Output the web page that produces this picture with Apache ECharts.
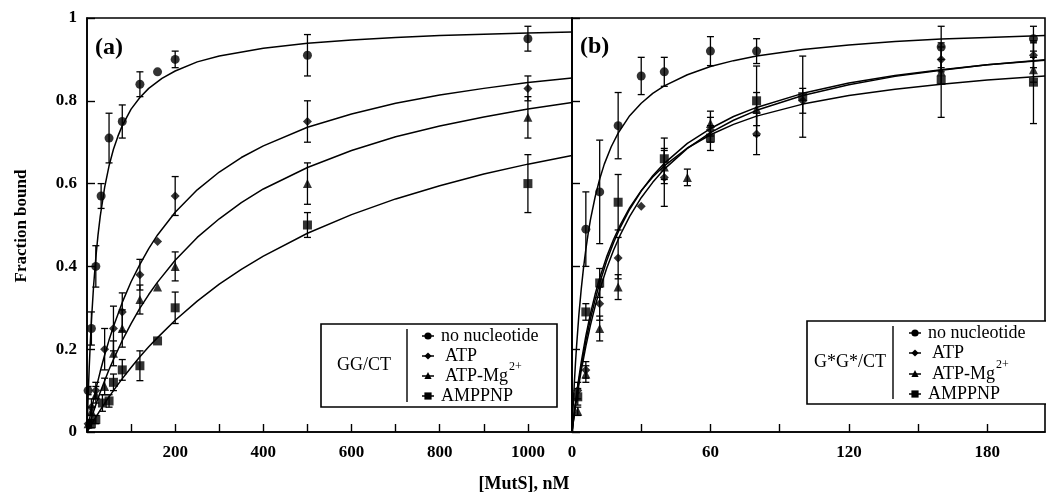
<!DOCTYPE html>
<html><head><meta charset="utf-8">
<script src="https://cdn.jsdelivr.net/npm/echarts@6/dist/echarts.min.js"></script>
<style>html,body{margin:0;padding:0;background:#fff}#c{width:1046px;height:499px}</style>
</head><body><div id="c"></div>
<script>
// ---------- Panel (a): GG/CT ----------
var aNoNucX = [2.5, 10, 20, 32, 50, 80, 120, 160, 200, 500, 1000];
var aNoNucY = [0.10, 0.25, 0.40, 0.57, 0.71, 0.75, 0.84, 0.87, 0.90, 0.91, 0.95];
var aNoNucE = [0.01, 0.04, 0.05, 0.03, 0.06, 0.04, 0.03, 0, 0.02, 0.05, 0.03];
var aAtpX = [2.5, 10, 20, 40, 60, 80, 120, 160, 200, 500, 1000];
var aAtpY = [0.02, 0.06, 0.10, 0.20, 0.25, 0.29, 0.38, 0.46, 0.57, 0.75, 0.83];
var aAtpE = [0.01, 0.02, 0.02, 0.05, 0.054, 0.046, 0.037, 0, 0.047, 0.05, 0.03];
var aMgX = [2.5, 10, 20, 40, 60, 80, 120, 160, 200, 500, 1000];
var aMgY = [0.02, 0.05, 0.09, 0.11, 0.19, 0.25, 0.32, 0.35, 0.40, 0.60, 0.76];
var aMgE = [0.01, 0.01, 0.02, 0.02, 0.03, 0.045, 0.035, 0, 0.035, 0.05, 0.05];
var aAmpX = [10, 20, 35, 50, 60, 80, 120, 160, 200, 500, 1000];
var aAmpY = [0.02, 0.03, 0.07, 0.075, 0.12, 0.15, 0.16, 0.22, 0.30, 0.50, 0.60];
var aAmpE = [0.01, 0.01, 0.02, 0.015, 0.02, 0.025, 0.036, 0, 0.038, 0.03, 0.07];
// fitted curves of panel (a)
var aCurveNoNucX = [0, 1, 2.5, 5, 7.5, 10, 15, 20, 25, 30, 40, 50, 60, 70, 80, 100, 120, 140, 170, 200, 250, 300, 400, 500, 600, 700, 800, 900, 1000, 1100];
var aCurveNoNucY = [0, 0.035, 0.084, 0.155, 0.215, 0.268, 0.354, 0.421, 0.476, 0.521, 0.591, 0.643, 0.683, 0.714, 0.740, 0.780, 0.808, 0.830, 0.854, 0.872, 0.894, 0.908, 0.927, 0.939, 0.947, 0.953, 0.958, 0.961, 0.964, 0.966];
var aCurveX = [0, 10, 20, 30, 40, 50, 60, 80, 100, 120, 140, 160, 200, 250, 300, 350, 400, 500, 600, 700, 800, 900, 1000, 1100];
var aCurveAtpY = [0, 0.054, 0.103, 0.146, 0.186, 0.222, 0.255, 0.313, 0.363, 0.405, 0.443, 0.476, 0.531, 0.585, 0.628, 0.663, 0.691, 0.736, 0.768, 0.794, 0.814, 0.830, 0.844, 0.855];
var aCurveMgY = [0, 0.034, 0.066, 0.096, 0.124, 0.151, 0.175, 0.221, 0.262, 0.299, 0.332, 0.362, 0.415, 0.470, 0.515, 0.554, 0.587, 0.639, 0.680, 0.713, 0.739, 0.761, 0.780, 0.796];
var aCurveAmpY = [0, 0.018, 0.036, 0.053, 0.069, 0.085, 0.100, 0.129, 0.156, 0.182, 0.206, 0.228, 0.270, 0.316, 0.357, 0.393, 0.425, 0.480, 0.525, 0.563, 0.595, 0.623, 0.647, 0.668];

// ---------- Panel (b): G*G*/CT ----------
var bNoNucX = [6, 12, 20, 30, 40, 60, 80, 160, 200];
var bNoNucY = [0.49, 0.58, 0.74, 0.86, 0.87, 0.92, 0.92, 0.93, 0.95];
var bNoNucE = [0.09, 0.125, 0.08, 0.045, 0.035, 0.035, 0.03, 0.05, 0.03];
var bAtpX = [2.5, 6, 12, 20, 30, 40, 60, 80, 100, 160, 200];
var bAtpY = [0.10, 0.15, 0.31, 0.42, 0.545, 0.615, 0.73, 0.72, 0.80, 0.90, 0.91];
var bAtpE = [0.02, 0.02, 0.04, 0.05, 0, 0.07, 0.03, 0.05, 0.03, 0.03, 0.03];
var bMgX = [2.5, 6, 12, 20, 40, 50, 60, 80, 160, 200];
var bMgY = [0.05, 0.14, 0.25, 0.35, 0.64, 0.615, 0.745, 0.78, 0.87, 0.875];
var bMgE = [0.01, 0.02, 0.03, 0.03, 0.04, 0.02, 0.03, 0.04, 0.03, 0.03];
var bAmpX = [2.5, 6, 12, 20, 40, 60, 80, 100, 160, 200];
var bAmpY = [0.085, 0.29, 0.36, 0.555, 0.66, 0.71, 0.80, 0.81, 0.85, 0.845];
var bAmpE = [0.02, 0.02, 0.035, 0.067, 0.05, 0.03, 0.084, 0.098, 0.09, 0.1];
var bCurveNoNucX = [0, 0.5, 1, 1.5, 2, 3, 4, 5, 6, 7, 8, 10, 12, 14, 17, 20, 25, 30, 35, 40, 50, 60, 70, 80, 100, 120, 140, 160, 180, 205];
var bCurveNoNucY = [0, 0.062, 0.117, 0.166, 0.209, 0.284, 0.345, 0.397, 0.441, 0.479, 0.513, 0.567, 0.611, 0.647, 0.689, 0.722, 0.764, 0.794, 0.818, 0.836, 0.863, 0.883, 0.897, 0.908, 0.924, 0.935, 0.943, 0.949, 0.953, 0.958];
var bCurveX = [0, 1, 2, 3, 4, 6, 8, 10, 12, 15, 18, 21, 25, 30, 35, 40, 50, 60, 70, 80, 100, 120, 140, 160, 180, 205];
var bCurveAtpY = [0, 0.045, 0.086, 0.124, 0.158, 0.220, 0.273, 0.319, 0.360, 0.413, 0.457, 0.495, 0.538, 0.582, 0.619, 0.649, 0.697, 0.733, 0.762, 0.784, 0.818, 0.843, 0.861, 0.875, 0.887, 0.898];
var bCurveMgY = [0, 0.042, 0.080, 0.115, 0.148, 0.207, 0.258, 0.303, 0.343, 0.395, 0.439, 0.477, 0.521, 0.566, 0.603, 0.635, 0.685, 0.723, 0.753, 0.777, 0.813, 0.839, 0.859, 0.874, 0.887, 0.899];
var bCurveAmpY = [0, 0.049, 0.093, 0.132, 0.169, 0.232, 0.286, 0.332, 0.372, 0.423, 0.465, 0.501, 0.542, 0.583, 0.616, 0.643, 0.686, 0.718, 0.743, 0.763, 0.792, 0.813, 0.828, 0.840, 0.850, 0.860];

// axis tick labels
var aXLabels = [200, 400, 600, 800, 1000];
var bXLabels = [0, 60, 120, 180];
var yLabels = [0, 0.2, 0.4, 0.6, 0.8, 1];
var legendNames = ['no nucleotide', 'ATP', 'ATP-Mg', 'AMPPNP'];

var SERIF = '"Liberation Serif","DejaVu Serif",serif';

function zip3(xs, ys, es) { return xs.map(function (x, i) { return [x, ys[i], es ? es[i] : 0]; }); }
function zip2(xs, ys) { return xs.map(function (x, i) { return [x, ys[i]]; }); }

function errRender(params, api) {
  var x = api.value(0), y = api.value(1), e = api.value(2);
  if (!e) return null;
  var t = api.coord([x, y + e]), b = api.coord([x, y - e]);
  var w = 3.5, st = { stroke: '#000', lineWidth: 1.3 };
  return { type: 'group', children: [
    { type: 'line', shape: { x1: t[0], y1: t[1], x2: b[0], y2: b[1] }, style: st },
    { type: 'line', shape: { x1: t[0] - w, y1: t[1], x2: t[0] + w, y2: t[1] }, style: st },
    { type: 'line', shape: { x1: b[0] - w, y1: b[1], x2: b[0] + w, y2: b[1] }, style: st }
  ]};
}

var symbols = ['circle', 'diamond', 'triangle', 'rect'];
var symSizes = [9, 9, 9, 9];

var series = [];
function addCurve(xs, ys, gi) {
  series.push({ type: 'line', xAxisIndex: gi, yAxisIndex: gi, data: zip2(xs, ys), showSymbol: false,
    smooth: false, lineStyle: { color: '#000', width: 1.5 }, silent: true, z: 2 });
}
function addPoints(xs, ys, es, gi, k) {
  series.push({ type: 'custom', xAxisIndex: gi, yAxisIndex: gi, data: zip3(xs, ys, es), renderItem: errRender,
    encode: { x: 0, y: 1 }, z: 3, silent: true, clip: true });
  series.push({ type: 'scatter', xAxisIndex: gi, yAxisIndex: gi, data: zip3(xs, ys, es), symbol: symbols[k],
    symbolSize: symSizes[k], itemStyle: { color: '#000' }, z: 4, silent: true });
}
addCurve(aCurveNoNucX, aCurveNoNucY, 0);
addCurve(aCurveX, aCurveAtpY, 0);
addCurve(aCurveX, aCurveMgY, 0);
addCurve(aCurveX, aCurveAmpY, 0);
addPoints(aNoNucX, aNoNucY, aNoNucE, 0, 0);
addPoints(aAtpX, aAtpY, aAtpE, 0, 1);
addPoints(aMgX, aMgY, aMgE, 0, 2);
addPoints(aAmpX, aAmpY, aAmpE, 0, 3);
addCurve(bCurveNoNucX, bCurveNoNucY, 1);
addCurve(bCurveX, bCurveAtpY, 1);
addCurve(bCurveX, bCurveMgY, 1);
addCurve(bCurveX, bCurveAmpY, 1);
addPoints(bNoNucX, bNoNucY, bNoNucE, 1, 0);
addPoints(bAtpX, bAtpY, bAtpE, 1, 1);
addPoints(bMgX, bMgY, bMgE, 1, 2);
addPoints(bAmpX, bAmpY, bAmpE, 1, 3);

var labelStyle = { color: '#000', fontFamily: SERIF, fontWeight: 'bold', fontSize: 17 };

// legend graphics
function legendBox(x0, y0, w, h, divX, groupLabel, mx, tx, rows) {
  var g = [];
  g.push({ type: 'rect', shape: { x: x0, y: y0, width: w, height: h }, style: { fill: '#fff', stroke: '#000', lineWidth: 1.6 }, z: 10 });
  g.push({ type: 'line', shape: { x1: divX, y1: y0 + 5, x2: divX, y2: y0 + h - 5 }, style: { stroke: '#000', lineWidth: 1.4 }, z: 11 });
  g.push({ type: 'text', x: (x0 + divX) / 2, y: y0 + h / 2, style: { text: groupLabel, fill: '#000', font: '18px ' + SERIF, textAlign: 'center', textVerticalAlign: 'middle' }, z: 11 });
  rows.forEach(function (ry, k) {
    g.push({ type: 'line', shape: { x1: mx - 6, y1: ry, x2: mx + 6, y2: ry }, style: { stroke: '#000', lineWidth: 1.5 }, z: 11 });
    var s = 3.6, shp;
    if (k === 0) shp = { type: 'circle', shape: { cx: mx, cy: ry, r: s }, style: { fill: '#000' }, z: 12 };
    else if (k === 1) shp = { type: 'polygon', shape: { points: [[mx, ry - s], [mx + s, ry], [mx, ry + s], [mx - s, ry]] }, style: { fill: '#000' }, z: 12 };
    else if (k === 2) shp = { type: 'polygon', shape: { points: [[mx, ry - s - 0.5], [mx + s, ry + s - 0.5], [mx - s, ry + s - 0.5]] }, style: { fill: '#000' }, z: 12 };
    else shp = { type: 'rect', shape: { x: mx - s, y: ry - s, width: 2 * s, height: 2 * s }, style: { fill: '#000' }, z: 12 };
    g.push(shp);
    g.push({ type: 'text', x: tx + (k === 1 || k === 2 ? 4 : 0), y: ry, style: { text: legendNames[k], fill: '#000', font: '18px ' + SERIF, textVerticalAlign: 'middle' }, z: 11 });
    if (k === 2) {
      g.push({ type: 'text', x: tx + 4 + 64, y: ry - 9, style: { text: '2+', fill: '#000', font: '12px ' + SERIF, textVerticalAlign: 'middle' }, z: 11 });
    }
  });
  return g;
}

var graphics = [].concat(
  legendBox(321, 324, 236, 83, 407, 'GG/CT', 428, 441, [336, 356, 376, 396]),
  legendBox(807, 321, 245, 83, 893, 'G*G*/CT', 915, 928, [333, 353, 374, 394]),
  [
    { type: 'text', x: 95, y: 48, style: { text: '(a)', fill: '#000', font: 'bold 24px ' + SERIF, textVerticalAlign: 'middle' } },
    { type: 'text', x: 580, y: 47, style: { text: '(b)', fill: '#000', font: 'bold 24px ' + SERIF, textVerticalAlign: 'middle' } },
    { type: 'text', x: 524, y: 484, style: { text: '[MutS], nM', fill: '#000', font: 'bold 18px ' + SERIF, textAlign: 'center', textVerticalAlign: 'middle' } },
    { type: 'text', x: 22, y: 226, rotation: Math.PI / 2, style: { text: 'Fraction bound', fill: '#000', font: 'bold 17px ' + SERIF, textAlign: 'center', textVerticalAlign: 'middle' } }
  ]
);

var option = {
  animation: false,
  backgroundColor: '#fff',
  grid: [
    { left: 87, top: 18, width: 485, height: 414, show: true, borderColor: '#000', borderWidth: 1.6, backgroundColor: 'transparent' },
    { left: 572, top: 18, width: 473, height: 414, show: true, borderColor: '#000', borderWidth: 1.6, backgroundColor: 'transparent' }
  ],
  xAxis: [
    { type: 'value', gridIndex: 0, min: 0, max: 1100, interval: 100,
      axisLine: { show: true, onZero: false, lineStyle: { color: '#000', width: 1.6 } },
      axisTick: { show: true, inside: true, length: 8, lineStyle: { color: '#000', width: 1.4 } },
      axisLabel: Object.assign({ margin: 12, formatter: function (v) { return aXLabels.indexOf(v) >= 0 ? String(v) : ''; } }, labelStyle),
      splitLine: { show: false } },
    { type: 'value', gridIndex: 1, min: 0, max: 205, interval: 30,
      axisLine: { show: true, onZero: false, lineStyle: { color: '#000', width: 1.6 } },
      axisTick: { show: true, inside: true, length: 8, lineStyle: { color: '#000', width: 1.4 } },
      axisLabel: Object.assign({ margin: 12, showMaxLabel: false, formatter: function (v) { return bXLabels.indexOf(v) >= 0 ? String(v) : ''; } }, labelStyle),
      splitLine: { show: false } }
  ],
  yAxis: [
    { type: 'value', gridIndex: 0, min: 0, max: 1, interval: 0.2,
      axisLine: { show: true, onZero: false, lineStyle: { color: '#000', width: 1.6 } },
      axisTick: { show: true, inside: true, length: 8, lineStyle: { color: '#000', width: 1.4 } },
      axisLabel: Object.assign({ margin: 10, formatter: function (v) { var r = Math.round(v * 10) / 10; return yLabels.indexOf(r) >= 0 ? String(r) : ''; } }, labelStyle),
      splitLine: { show: false } },
    { type: 'value', gridIndex: 1, min: 0, max: 1, interval: 0.2,
      axisLine: { show: true, onZero: false, lineStyle: { color: '#000', width: 1.6 } },
      axisTick: { show: true, inside: true, length: 8, lineStyle: { color: '#000', width: 1.4 } },
      axisLabel: { show: false },
      splitLine: { show: false } }
  ],
  series: series,
  graphic: graphics
};
var chart = echarts.init(document.getElementById('c'), null, { renderer: 'canvas' });
chart.setOption(option);
</script></body></html>
